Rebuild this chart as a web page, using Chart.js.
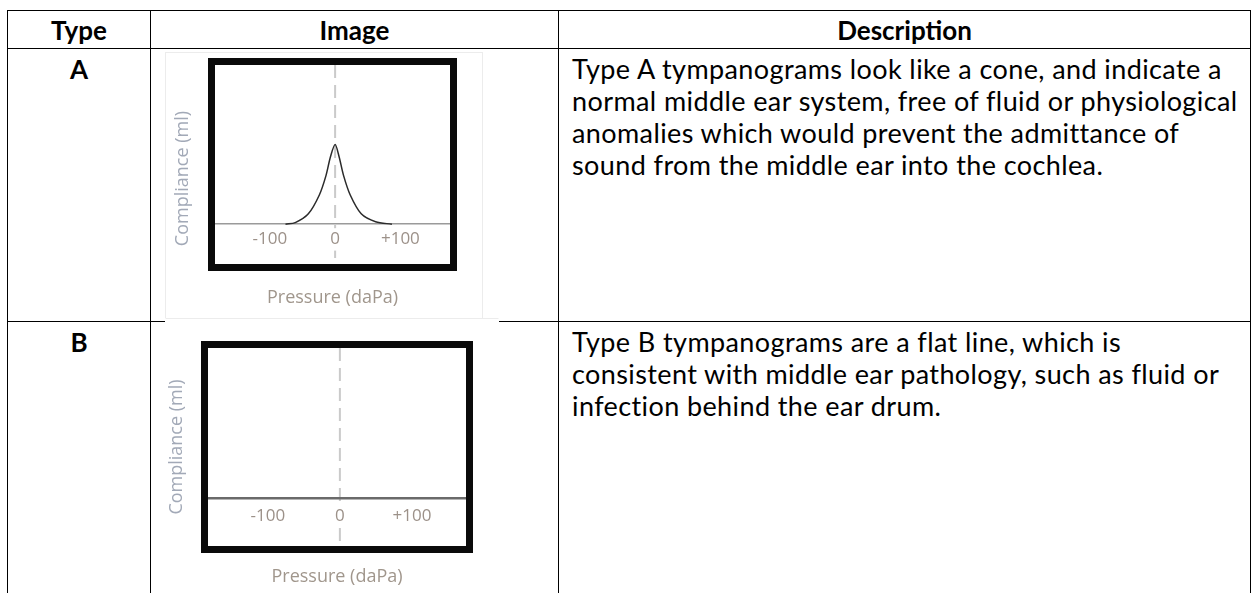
<!DOCTYPE html>
<html lang="en">
<head>
  <meta charset="UTF-8">
  <title>Tympanogram types</title>
  <script src="https://cdn.jsdelivr.net/npm/chart.js"></script>
  <style>
    body {
      margin: 0;
      background: #fff;
      width: 1252px;
      height: 593px;
      overflow: hidden;
      position: relative;
      font-family: Lato, "Open Sans", sans-serif;
      color: #000;
    }

    table {
      position: absolute;
      left: 7px;
      top: 10px;
      border-collapse: collapse;
      table-layout: fixed;
    }

    td, th {
      border: 1.5px solid #000;
      padding: 0;
      vertical-align: top;
    }

    th {
      font-weight: bold;
      font-size: 26px;
      height: 37px;
      vertical-align: middle;
    }

    .type {
      text-align: center;
      font-weight: bold;
      font-size: 26px;
      line-height: 32px;
      padding-top: 4px;
    }

    .desc {
      font-size: 27px;
      letter-spacing: 0.4px;
      line-height: 32px;
      padding: 4px 0 0 13px;
      white-space: nowrap;
    }

    .imgbox {
      position: absolute;
      background: #fff;
      border: 1px solid #ececec;
    }

    canvas {
      position: absolute;
    }
  </style>
</head>

<body>
  <table>
    <colgroup>
      <col style="width:143px">
      <col style="width:408px">
      <col style="width:692px">
    </colgroup>
    <tr>
      <th>Type</th>
      <th>Image</th>
      <th>Description</th>
    </tr>
    <tr style="height:273px">
      <td class="type">A</td>
      <td></td>
      <td class="desc">Type A tympanograms look like a cone, and indicate a<br>normal middle ear system, free of fluid or physiological<br>anomalies which would prevent the admittance of<br>sound from the middle ear into the cochlea.</td>
    </tr>
    <tr style="height:290px">
      <td class="type">B</td>
      <td></td>
      <td class="desc">Type B tympanograms are a flat line, which is<br>consistent with middle ear pathology, such as fluid or<br>infection behind the ear drum.</td>
    </tr>
  </table>

  <div class="imgbox" style="left:165px; top:52px; width:316px; height:265px"></div>
  <div class="imgbox" style="left:165px; top:318px; width:332px; height:280px; border-color:#fff; border-top-color:#ececec"></div>

  <canvas id="chartA" width="330" height="270" style="left:160px; top:50px"></canvas>
  <canvas id="chartB" width="330" height="275" style="left:160px; top:318px"></canvas>

  <script>
    const pressureTicks = [-100, 0, 100];
    const pressureTickLabels = ['-100', '0', '+100'];

    // type A: peaked curve (pressure in daPa, compliance relative)
    const typeAPressure = [-76, -61, -41, -24, -14, -7, 0, 6, 13, 23, 40, 62, 87];
    const typeACompliance = [0, 0.02, 0.13, 0.37, 0.61, 0.85, 1, 0.85, 0.61, 0.37, 0.13, 0.03, 0];

    // type B: flat line
    const typeBPressure = [-183, 175];
    const typeBCompliance = [0, 0];

    const chartFont = '"Open Sans", sans-serif';

    const tympPlugin = {
      id: 'tymp',
      beforeDraw(chart) {
        const { ctx, chartArea, scales } = chart;
        const x0 = scales.x.getPixelForValue(0);
        ctx.save();
        ctx.strokeStyle = '#cacaca';
        ctx.lineWidth = 2;
        ctx.setLineDash([13, 7]);
        ctx.beginPath();
        ctx.moveTo(x0, chartArea.top);
        ctx.lineTo(x0, chartArea.bottom);
        ctx.stroke();
        ctx.restore();
      },
      afterDraw(chart) {
        const { ctx, chartArea } = chart;
        ctx.save();
        ctx.strokeStyle = '#0a0a0a';
        ctx.lineWidth = 7;
        ctx.strokeRect(chartArea.left - 3.5, chartArea.top - 3.5,
          chartArea.width + 7, chartArea.height + 7);
        ctx.restore();
      }
    };

    function makeChart(id, pressure, compliance, cfg) {
      return new Chart(document.getElementById(id), {
        type: 'line',
        data: {
          datasets: [{
            data: pressure.map((p, i) => ({ x: p, y: compliance[i] })),
            borderColor: cfg.lineColor,
            borderWidth: cfg.lineWidth,
            pointRadius: 0,
            tension: 0.3,
            fill: false
          }]
        },
        options: {
          responsive: false,
          animation: false,
          devicePixelRatio: 1,
          layout: { padding: cfg.padding },
          plugins: { legend: { display: false }, tooltip: { enabled: false } },
          scales: {
            x: {
              type: 'linear',
              position: { y: 0 },
              min: cfg.xMin,
              max: cfg.xMax,
              afterBuildTicks: axis => {
                axis.ticks = pressureTicks.map(v => ({ value: v }));
              },
              ticks: {
                autoSkip: false,
                maxRotation: 0,
                padding: cfg.tickPad,
                color: '#9c9189',
                font: { family: chartFont, size: 17 },
                showLabelBackdrop: true,
                backdropColor: '#fff',
                backdropPadding: 1,
                callback: v => pressureTickLabels[pressureTicks.indexOf(v)]
              },
              grid: { display: true, color: 'transparent', drawTicks: false },
              border: { display: true, color: cfg.axisColor, width: cfg.axisWidth }
            },
            xt: {
              type: 'linear',
              position: 'bottom',
              ticks: { display: false },
              grid: { display: false },
              border: { display: false },
              title: {
                display: true,
                text: 'Pressure (daPa)',
                color: '#a0968c',
                font: { family: chartFont, size: 18 },
                padding: cfg.xTitlePad
              }
            },
            y: {
              type: 'linear',
              min: cfg.yMin,
              max: cfg.yMax,
              ticks: { display: false },
              grid: { display: false },
              border: { display: false },
              title: {
                display: true,
                // trailing spaces push the label a little below the centre, as in the source image
                text: 'Compliance (ml)' + cfg.yTitleTail,
                color: '#a2a9b7',
                font: { family: chartFont, size: 18 },
                padding: cfg.yTitlePad
              }
            }
          }
        },
        plugins: [tympPlugin]
      });
    }

    makeChart('chartA', typeAPressure, typeACompliance, {
      padding: { top: 15, right: 40, left: 0, bottom: 0 },
      xMin: -184, xMax: 176, yMin: -0.5, yMax: 2.0,
      tickPad: 5,
      xTitlePad: { top: 15.2, bottom: 11.2 },
      yTitlePad: { top: 12.2, bottom: 13.2 },
      yTitleTail: '      ',
      lineColor: '#2b2b2b', lineWidth: 1.5,
      axisColor: '#9a9a9a', axisWidth: 1.5
    });

    makeChart('chartB', typeBPressure, typeBCompliance, {
      padding: { top: 30, right: 24, left: 0, bottom: 0 },
      xMin: -183, xMax: 175, yMin: -0.6, yMax: 1.9,
      tickPad: 7,
      xTitlePad: { top: 12.2, bottom: 5.2 },
      yTitlePad: { top: 6.2, bottom: 12.2 },
      yTitleTail: '',
      lineColor: '#6a6a6a', lineWidth: 2,
      axisColor: '#6a6a6a', axisWidth: 2
    });
  </script>
</body>
</html>
